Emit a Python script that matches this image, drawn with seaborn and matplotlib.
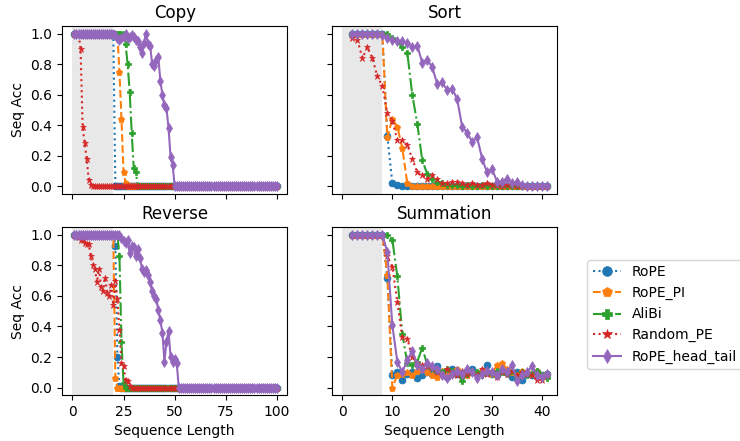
import pandas as pd
import matplotlib
matplotlib.use("Agg")
import matplotlib.pyplot as plt
import seaborn as sns

# --- data ---
methods = ["RoPE", "RoPE_PI", "AliBi", "Random_PE", "RoPE_head_tail"]
tasks = ["Copy", "Sort", "Reverse", "Summation"]

len_long = list(range(1, 101))   # Copy / Reverse
len_short = list(range(2, 42))   # Sort / Summation

# Copy
copy_rope = [1.0] * 20 + [0.0] * 80
copy_rope_pi = [1.0] * 22 + [0.75, 0.44, 0.09, 0.02] + [0.0] * 74
copy_alibi = [1.0] * 25 + [0.93, 0.80, 0.62, 0.35, 0.12, 0.09] + [0.0] * 69
copy_random = [1.0] * 3 + [0.90, 0.39, 0.28, 0.18, 0.04, 0.01] + [0.0] * 91
copy_head_tail = ([1.0] * 20
                  + [0.99, 0.97, 0.96, 0.97, 0.98, 1.0, 0.97, 0.98, 0.99, 0.98,
                     0.96, 0.95, 0.91, 0.87, 0.94, 1.0, 0.93, 0.92, 0.80, 0.79,
                     0.83, 0.85, 0.69, 0.60, 0.53, 0.51, 0.38, 0.19, 0.14]
                  + [0.0] * 51)

# Reverse
rev_rope = [1.0] * 20 + [0.93, 0.20, 0.01] + [0.0] * 77
rev_rope_pi = [1.0] * 20 + [0.06] + [0.0] * 79
rev_alibi = [1.0] * 22 + [0.86, 0.30, 0.03] + [0.0] * 75
rev_random = ([1.0, 1.0, 0.99, 0.97, 0.97, 0.95, 0.94, 0.94, 0.86, 0.80,
               0.78, 0.69, 0.78, 0.66, 0.63, 0.72, 0.62, 0.60, 0.67, 0.54,
               0.70, 0.58, 0.38, 0.16, 0.14, 0.05, 0.04, 0.01]
              + [0.0] * 72)
rev_head_tail = ([1.0] * 23
                 + [0.98, 0.96, 0.95, 0.97, 0.88, 0.93, 0.92, 0.86, 0.91, 0.85,
                    0.78, 0.76, 0.77, 0.74, 0.69, 0.63, 0.60, 0.58, 0.51, 0.44,
                    0.36, 0.17, 0.30, 0.37, 0.20, 0.17, 0.19, 0.16]
                 + [0.0] * 49)

# Sort
sort_rope = [1.0] * 7 + [0.33, 0.02, 0.01] + [0.0] * 30
sort_rope_pi = [1.0] * 7 + [0.32, 0.44, 0.39, 0.25, 0.02] + [0.0] * 28
sort_alibi = ([1.0] * 8
              + [0.97, 0.95, 0.91, 0.875, 0.60, 0.41, 0.17, 0.08, 0.05, 0.03, 0.02, 0.01]
              + [0.01, 0.01, 0.0, 0.01, 0.0, 0.0, 0.01, 0.0, 0.0, 0.0,
                 0.0, 0.0, 0.0, 0.0, 0.0, 0.0, 0.0, 0.0, 0.0, 0.0])
sort_random = [0.97, 0.96, 0.84, 0.91, 0.84, 0.72, 0.655, 0.48, 0.43, 0.30,
               0.30, 0.27, 0.18, 0.09, 0.07, 0.05, 0.07, 0.05, 0.02, 0.02,
               0.03, 0.03, 0.02, 0.01, 0.02, 0.01, 0.01, 0.02, 0.01, 0.01,
               0.0, 0.01, 0.01, 0.0, 0.01, 0.0, 0.0, 0.0, 0.0, 0.0]
sort_head_tail = ([1.0] * 6
                  + [0.99, 0.97, 0.96, 0.95, 0.95, 0.94, 0.91, 0.92, 0.81, 0.83,
                     0.78, 0.67, 0.68, 0.63, 0.64, 0.57, 0.39, 0.35, 0.29, 0.32,
                     0.18, 0.09, 0.11, 0.03, 0.03, 0.05, 0.02, 0.03, 0.01]
                  + [0.0] * 5)

# Summation
sum_rope = [1.0] * 7 + [0.72, 0.08, 0.10, 0.05, 0.09, 0.10, 0.06, 0.08, 0.10, 0.09,
                        0.14, 0.10, 0.07, 0.12, 0.09, 0.08, 0.11, 0.12, 0.09, 0.10,
                        0.15, 0.09, 0.08, 0.11, 0.10, 0.07, 0.10, 0.05, 0.09, 0.08,
                        0.10, 0.08, 0.09]
sum_rope_pi = [1.0] * 7 + [0.74, 0.0, 0.08, 0.09, 0.10, 0.08, 0.11, 0.12, 0.10, 0.08,
                           0.07, 0.11, 0.10, 0.09, 0.12, 0.10, 0.08, 0.10, 0.09, 0.11,
                           0.10, 0.09, 0.15, 0.16, 0.12, 0.10, 0.08, 0.11, 0.10, 0.09,
                           0.11, 0.08, 0.09]
sum_alibi = [1.0] * 7 + [1.0, 0.97, 0.73, 0.35, 0.16, 0.15, 0.17, 0.26, 0.15, 0.13,
                         0.11, 0.10, 0.12, 0.11, 0.10, 0.04, 0.09, 0.11, 0.10, 0.08,
                         0.10, 0.09, 0.11, 0.10, 0.09, 0.11, 0.07, 0.10, 0.08, 0.09,
                         0.11, 0.08, 0.06]
sum_random = [1.0] * 7 + [0.86, 0.79, 0.56, 0.33, 0.32, 0.20, 0.16, 0.15, 0.14, 0.13,
                          0.10, 0.09, 0.12, 0.10, 0.08, 0.11, 0.09, 0.10, 0.08, 0.12,
                          0.09, 0.11, 0.07, 0.10, 0.09, 0.11, 0.08, 0.10, 0.09, 0.08,
                          0.05, 0.05, 0.08]
sum_head_tail = [1.0] * 7 + [0.89, 0.41, 0.17, 0.10, 0.18, 0.24, 0.15, 0.12, 0.16, 0.14,
                             0.12, 0.08, 0.06, 0.09, 0.11, 0.09, 0.12, 0.10, 0.06, 0.09,
                             0.11, 0.10, 0.08, 0.12, 0.10, 0.15, 0.04, 0.08, 0.10, 0.14,
                             0.08, 0.07, 0.09]

task_data = {
    "Copy": (len_long, [copy_rope, copy_rope_pi, copy_alibi, copy_random, copy_head_tail]),
    "Sort": (len_short, [sort_rope, sort_rope_pi, sort_alibi, sort_random, sort_head_tail]),
    "Reverse": (len_long, [rev_rope, rev_rope_pi, rev_alibi, rev_random, rev_head_tail]),
    "Summation": (len_short, [sum_rope, sum_rope_pi, sum_alibi, sum_random, sum_head_tail]),
}
train_len = {"Copy": 20, "Sort": 8, "Reverse": 20, "Summation": 8}

# --- styles ---
colors = ["#1f77b4", "#ff7f0e", "#2ca02c", "#d62728", "#9467bd"]
line_styles = [":", "--", "-.", ":", "-"]
marker_list = ["o", "p", "P", "*", "d"]

rows = []
for task, (lengths, series) in task_data.items():
    for name, vals in zip(methods, series):
        for L, v in zip(lengths, vals):
            rows.append({"task": task, "method": name, "length": L, "acc": v})
df = pd.DataFrame(rows)

fig, axes = plt.subplots(2, 2, figsize=(7.4, 4.41), dpi=100, sharex="col", sharey=True)
fig.subplots_adjust(left=0.084, right=0.753, top=0.941, bottom=0.104,
                    wspace=0.2, hspace=0.2)

for ax, task in zip(axes.flat, tasks):
    ax.axvspan(0, train_len[task], color="lightgray", alpha=0.5, lw=0)
    sub = df[df["task"] == task]
    for name, c, ls, mk in zip(methods, colors, line_styles, marker_list):
        d = sub[sub["method"] == name]
        sns.lineplot(data=d, x="length", y="acc", ax=ax, color=c, linestyle=ls,
                     marker=mk, markersize=5, markeredgecolor=c, markeredgewidth=0.5,
                     linewidth=1.5, label=name, legend=False, errorbar=None)
    ax.set_title(task, fontsize=12)
    ax.set_xlabel("")
    ax.set_ylabel("")

for ax in axes[:, 0]:
    ax.set_ylabel("Seq Acc")
for ax in axes[1, :]:
    ax.set_xlabel("Sequence Length")

handles, labels = axes[0, 0].get_legend_handles_labels()
fig.legend(handles, labels, loc="center left", bbox_to_anchor=(0.7937, 0.287),
           borderaxespad=0, markerscale=1.4, fontsize=10)

fig.savefig("out.png", dpi=100)
